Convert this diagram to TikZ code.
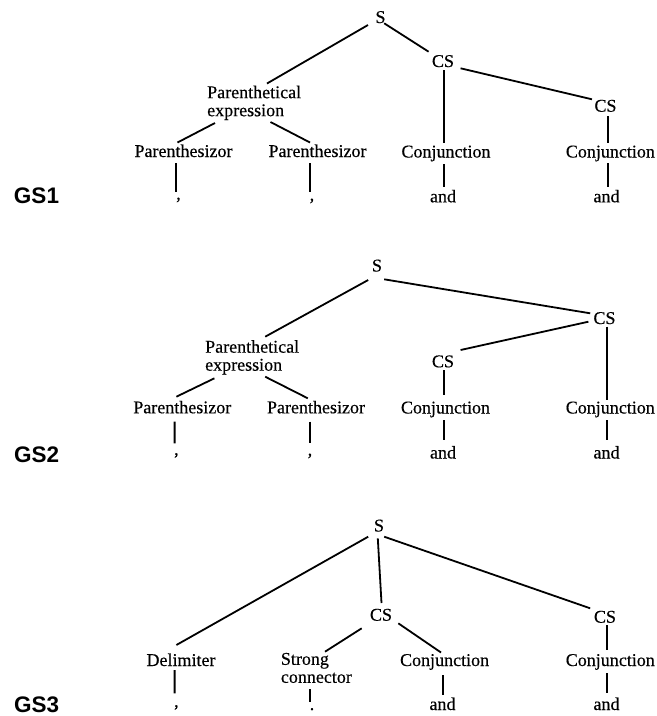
\documentclass[tikz,border=0pt]{standalone}
\usepackage{fontspec}
\setmainfont{Liberation Serif}
\newfontfamily\treefont{Liberation Serif}[FakeBold=0.35]
\newfontfamily\gsfamily{Liberation Sans}
\begin{document}
\begin{tikzpicture}[x=1pt,y=-1pt,
  lab/.style={font=\treefont\fontsize{18}{18}\selectfont, inner sep=0pt, anchor=base},
  mlab/.style={font=\treefont\fontsize{18}{18}\selectfont, inner sep=0pt, anchor=north west, align=left},
  gs/.style={font=\gsfamily\bfseries\fontsize{22.5}{22.5}\selectfont, inner sep=0pt},
  edge/.style={line width=1.8pt}]
\useasboundingbox (0,0) rectangle (657,716);
% ---------------- GS1 ----------------
\node[gs] (gs1) at (36.5,195.8) {GS1};
\node[lab] (s1) at (380.5,23) {S};
\node[lab] (cs1a) at (443,67) {CS};
\node[mlab] (pe1) at (207,85.5) {Parenthetical\\expression};
\node[lab] (cs1b) at (605.5,111.7) {CS};
\node[lab] (par1a) at (183.5,157) {Parenthesizor};
\node[lab] (par1b) at (317.5,157) {Parenthesizor};
\node[lab] (conj1a) at (446,157.5) {Conjunction};
\node[lab] (conj1b) at (610.4,157.5) {Conjunction};
\node[lab] (and1a) at (443,202.3) {and};
\node[lab] (and1b) at (606.5,202.3) {and};
\node[lab] (com1a) at (178.5,199.5) {,};
\node[lab] (com1b) at (312,200.5) {,};
\draw[edge] ([shift={(-12.5,2)}]s1.base) -- ([shift={(60,-2)}]pe1.north west);
\draw[edge] ([shift={(3.7,0.3)}]s1.base) -- ([shift={(-14.4,-15.3)}]cs1a.base);
\draw[edge] ([shift={(17.6,1.3)}]cs1a.base) -- ([shift={(-13.5,-12.4)}]cs1b.base);
\draw[edge] ([shift={(1,3)}]cs1a.base) -- ([shift={(-2,-14.5)}]conj1a.base);
\draw[edge] ([shift={(2.5,4.3)}]cs1b.base) -- ([shift={(-2.4,-14.8)}]conj1b.base);
\draw[edge] ([shift={(-2,6.5)}]conj1a.base) -- ([shift={(1,-15.3)}]and1a.base);
\draw[edge] ([shift={(-2.4,5.5)}]conj1b.base) -- ([shift={(1.5,-15.6)}]and1b.base);
\draw[edge] ([shift={(8,37.5)}]pe1.north west) -- ([shift={(-6,-14.5)}]par1a.base);
\draw[edge] ([shift={(63.5,36.5)}]pe1.north west) -- ([shift={(-7.5,-14.5)}]par1b.base);
\draw[edge] ([shift={(-7.5,6.3)}]par1a.base) -- ([shift={(-2.5,-7.8)}]com1a.base);
\draw[edge] ([shift={(-7.5,6.3)}]par1b.base) -- ([shift={(-2,-8.8)}]com1b.base);
% ---------------- GS2 ----------------
\node[gs] (gs2) at (36.7,455) {GS2};
\node[lab] (s2) at (377,271.5) {S};
\node[lab] (cs2t) at (604.5,324) {CS};
\node[mlab] (pe2) at (205,340) {Parenthetical\\expression};
\node[lab] (cs2i) at (443,367.3) {CS};
\node[lab] (par2a) at (182.3,413.3) {Parenthesizor};
\node[lab] (par2b) at (316,413.3) {Parenthesizor};
\node[lab] (conj2a) at (445.5,413.5) {Conjunction};
\node[lab] (conj2b) at (610.3,413.5) {Conjunction};
\node[lab] (and2a) at (443,458.5) {and};
\node[lab] (and2b) at (606.5,458.5) {and};
\node[lab] (com2a) at (176.4,455) {,};
\node[lab] (com2b) at (310,455.5) {,};
\draw[edge] ([shift={(-8.8,8.5)}]s2.base) -- ([shift={(60.2,-3.3)}]pe2.north west);
\draw[edge] ([shift={(7.2,7.8)}]s2.base) -- ([shift={(-14.3,-10.7)}]cs2t.base);
\draw[edge] ([shift={(-16.1,-2.3)}]cs2t.base) -- ([shift={(17.6,-17.3)}]cs2i.base);
\draw[edge] ([shift={(2.8,2.7)}]cs2t.base) -- ([shift={(-3,-13.5)}]conj2b.base);
\draw[edge] ([shift={(0.9,2.7)}]cs2i.base) -- ([shift={(-1.6,-18.5)}]conj2a.base);
\draw[edge] ([shift={(9.4,38.3)}]pe2.north west) -- ([shift={(-5.9,-16.6)}]par2a.base);
\draw[edge] ([shift={(60.2,36.7)}]pe2.north west) -- ([shift={(-8.2,-15)}]par2b.base);
\draw[edge] ([shift={(-7.7,8.4)}]par2a.base) -- ([shift={(-1.8,-11.7)}]com2a.base);
\draw[edge] ([shift={(-6.4,8.4)}]par2b.base) -- ([shift={(-0.4,-12.2)}]com2b.base);
\draw[edge] ([shift={(-1.6,6.5)}]conj2a.base) -- ([shift={(0.9,-18.5)}]and2a.base);
\draw[edge] ([shift={(-3,6.5)}]conj2b.base) -- ([shift={(0.8,-18.5)}]and2b.base);
% ---------------- GS3 ----------------
\node[gs] (gs3) at (36.7,705) {GS3};
\node[lab] (s3) at (379,531.5) {S};
\node[lab] (cs3m) at (381,620.7) {CS};
\node[lab] (cs3r) at (605,622.7) {CS};
\node[lab] (delim) at (181,666) {Delimiter};
\node[mlab] (strong) at (280.7,652.7) {Strong\\connector};
\node[lab] (conj3a) at (444.6,666) {Conjunction};
\node[lab] (conj3b) at (610.3,666) {Conjunction};
\node[lab] (and3a) at (442.5,710) {and};
\node[lab] (and3b) at (606.5,710) {and};
\node[lab] (com3a) at (176.4,707) {,};
\node[lab] (dot3) at (312,710) {.};
\draw[edge] ([shift={(-10.8,5.2)}]s3.base) -- ([shift={(-4.6,-21)}]delim.base);
\draw[edge] ([shift={(-1.2,6.8)}]s3.base) -- ([shift={(0.5,-17.7)}]cs3m.base);
\draw[edge] ([shift={(5.2,5.2)}]s3.base) -- ([shift={(-14.8,-14.4)}]cs3r.base);
\draw[edge] ([shift={(-19.3,7.6)}]cs3m.base) -- ([shift={(44.3,-1)}]strong.north west);
\draw[edge] ([shift={(17.3,2.6)}]cs3m.base) -- ([shift={(-3.6,-13.5)}]conj3a.base);
\draw[edge] ([shift={(2.3,2.3)}]cs3r.base) -- ([shift={(-3,-16)}]conj3b.base);
\draw[edge] ([shift={(-6.4,4)}]delim.base) -- ([shift={(-1.8,-13.7)}]com3a.base);
\draw[edge] ([shift={(29.3,36.6)}]strong.north west) -- ([shift={(-2,-8.3)}]dot3.base);
\draw[edge] ([shift={(-1.6,9)}]conj3a.base) -- ([shift={(0.5,-15)}]and3a.base);
\draw[edge] ([shift={(-3,7.3)}]conj3b.base) -- ([shift={(0.8,-16.7)}]and3b.base);
\end{tikzpicture}
\end{document}
